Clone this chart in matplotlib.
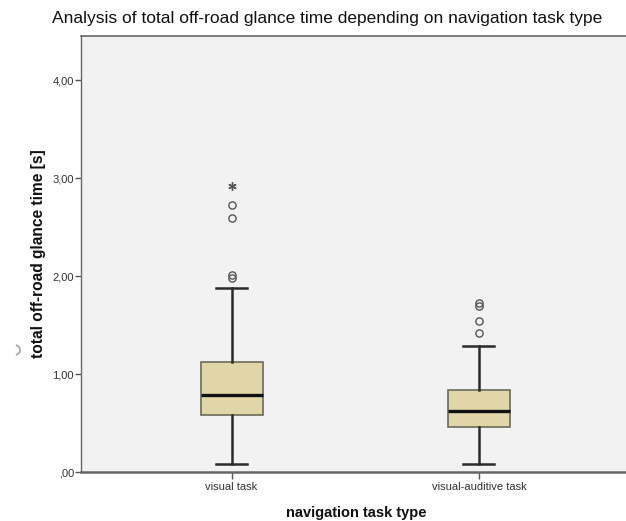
import matplotlib
matplotlib.use("Agg")
import matplotlib.pyplot as plt
from matplotlib.patches import Arc

plt.rcParams['font.family'] = ['Liberation Sans', 'DejaVu Sans']

# ---- data ----
categories = ["visual task", "visual-auditive task"]
whisker_low = [0.08, 0.08]
q1 = [0.58, 0.456]
median = [0.79, 0.626]
q3 = [1.12, 0.837]
whisker_high = [1.88, 1.29]
outliers_circle = [[1.977, 2.007, 2.59, 2.72], [1.42, 1.54, 1.69, 1.72]]
outliers_extreme = [[2.92], []]
y_ticks = [0.0, 1.0, 2.0, 3.0, 4.0]
y_tick_labels = [",00", "1,00", "2,00", "3,00", "4,00"]

title = "Analysis of total off-road glance time depending on navigation task type"
xlabel = "navigation task type"
ylabel = "total off-road glance time [s]"

W, H = 626, 521
fig = plt.figure(figsize=(W / 100, H / 100), dpi=100)
fig.patch.set_facecolor("white")
ax = fig.add_axes([81 / W, (H - 472) / H, (W - 81) / W + 0.01, (472 - 36) / H])
ax.set_facecolor("#f2f2f2")

stats = []
for i, name in enumerate(categories):
    stats.append(dict(label=name, whislo=whisker_low[i], q1=q1[i], med=median[i],
                      q3=q3[i], whishi=whisker_high[i], fliers=outliers_circle[i]))

positions = [1, 2]
bp = ax.bxp(stats, positions=positions, widths=0.25, patch_artist=True,
            showfliers=True,
            boxprops=dict(facecolor="#e1d6a8", edgecolor="#6b6b5a", linewidth=1.2),
            medianprops=dict(color="#111111", linewidth=2.4),
            whiskerprops=dict(color="#2b2b2b", linewidth=1.8),
            capprops=dict(color="#2b2b2b", linewidth=1.8),
            capwidths=0.125,
            flierprops=dict(marker="o", markersize=5.2, markerfacecolor="none",
                            markeredgecolor="#555555", markeredgewidth=1.0))

for i, vals in enumerate(outliers_extreme):
    if vals:
        ax.plot([positions[i]] * len(vals), vals, linestyle="none",
                marker=(6, 2, 0), markersize=6, color="#555555", markeredgewidth=1.0)

ax.set_xlim(0.391, 2.62)
ax.set_ylim(0, 4.449)
ax.set_yticks(y_ticks)
ax.set_yticklabels(y_tick_labels)
ax.set_xticks(positions)
ax.set_xticklabels(categories)

ax.tick_params(axis="y", direction="out", length=4, width=1, color="#555555",
               labelsize=8, labelcolor="#333333", pad=1)
ax.tick_params(axis="x", direction="out", length=5, width=1, color="#555555",
               labelsize=8, labelcolor="#333333", pad=2)

for side in ["left", "bottom", "top"]:
    ax.spines[side].set_color("#666666")
ax.spines["left"].set_linewidth(1.0)
ax.spines["bottom"].set_linewidth(1.8)
ax.spines["top"].set_linewidth(1.2)
ax.spines["right"].set_visible(False)

ax.set_xlabel(xlabel, fontsize=10.5, fontweight="bold", color="#111111", labelpad=10)
ax.set_ylabel(ylabel, fontsize=11.2, fontweight="bold", color="#111111", labelpad=5)

fig.text(327 / W, 1 - 19 / H, title, ha="center", va="center", fontsize=12.5,
         color="#111111")

arc = Arc((15 / 100, (H - 350) / 100), 0.10, 0.10, theta1=-80, theta2=80,
          transform=fig.dpi_scale_trans, color="#aaaaaa", linewidth=1.3)
fig.add_artist(arc)

fig.savefig("out.png", dpi=100, facecolor="white")
